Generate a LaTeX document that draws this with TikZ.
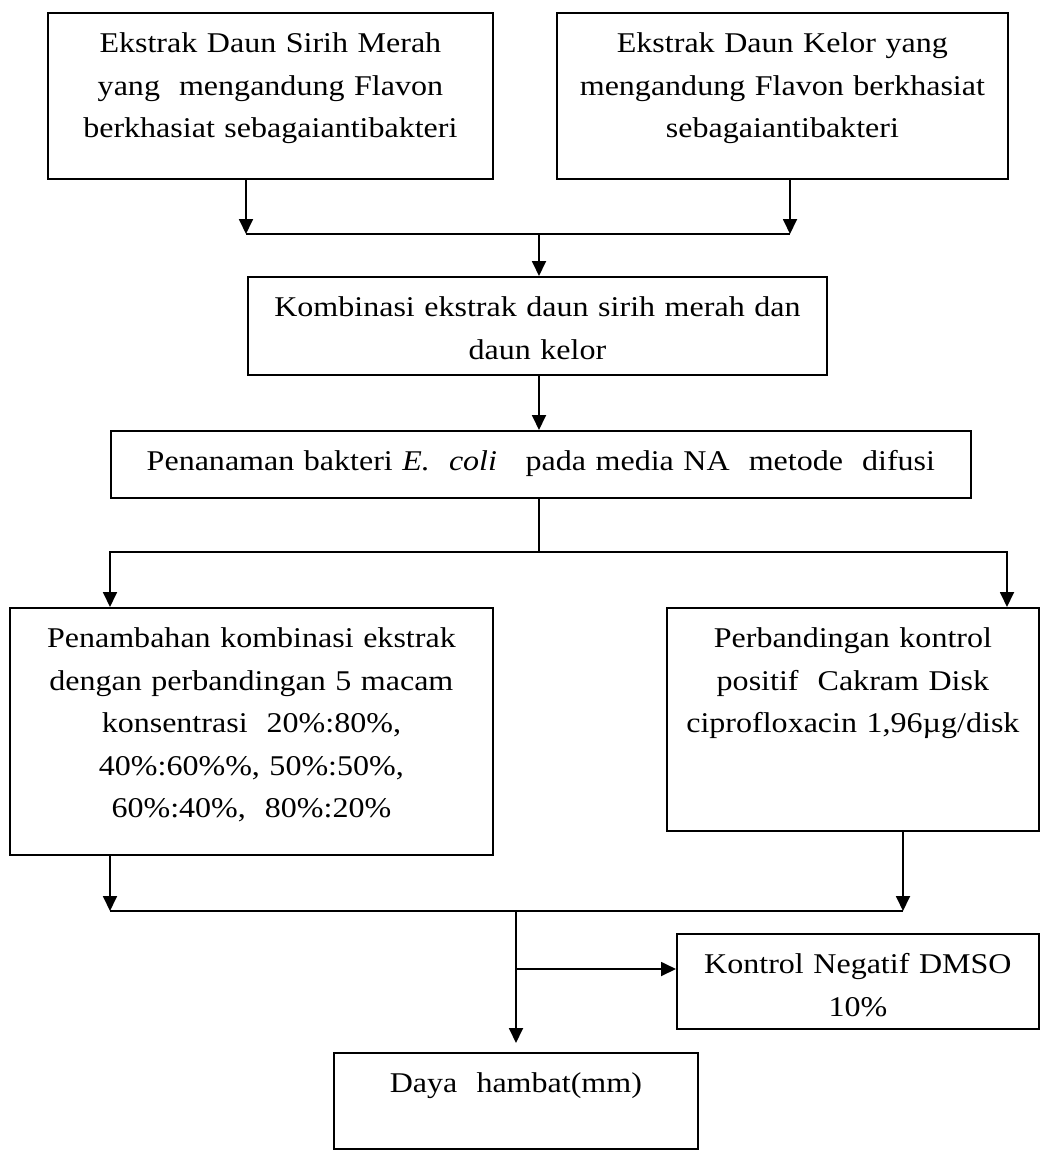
\documentclass[tikz,border=0pt]{standalone}
\usepackage{fontspec}
\setmainfont[FakeStretch=1.12]{Liberation Serif}
\usetikzlibrary{arrows.meta}

\begin{document}
\begin{tikzpicture}
[x=0.5pt,y=-0.5pt,>={Triangle[length=7.5pt,width=7pt]},line width=0.9pt,
box/.style={draw,anchor=north west,align=center,inner sep=0pt,text height=20pt,font=\fontsize{14.3pt}{21.2pt}\selectfont},]

\useasboundingbox (0,0) rectangle (1041,1152);

%Boxes
\node (A) at (47,12)[box,text width=222.5pt,text depth=63pt] {Ekstrak Daun Sirih Merah\\yang\ \ mengandung Flavon\\berkhasiat sebagaiantibakteri};
\node (B) at (556,12)[box,text width=225.5pt,text depth=63pt] {Ekstrak Daun Kelor yang\\mengandung Flavon berkhasiat\\sebagaiantibakteri};
\node (C) at (247,276)[box,text width=289.5pt,text depth=29pt] {Kombinasi ekstrak daun sirih merah dan\\daun kelor};
\node (D) at (110,430)[box,text width=430pt,text depth=13.5pt] {Penanaman bakteri \textit{E.\ \ coli}\ \ \ pada media NA\ \ metode\ \ difusi};
\node (E) at (9,607)[box,text width=241.5pt,text depth=103.5pt] {Penambahan kombinasi ekstrak\\dengan perbandingan 5 macam\\konsentrasi\ \ 20\%:80\%,\\40\%:60\%\%, 50\%:50\%,\\60\%:40\%,\ \ 80\%:20\%};
\node (F) at (666,607)[box,text width=186pt,text depth=91.5pt] {Perbandingan kontrol\\positif\ \ Cakram Disk\\ciprofloxacin 1,96µg/disk};
\node (G) at (676,933)[box,text width=181pt,text depth=27.5pt] {Kontrol Negatif DMSO\\10\%};
\node (H) at (333,1052)[box,text width=182pt,text depth=28pt] {Daya\ \ hambat(mm)};

%Junction points
\coordinate (J1) at (246,234);
\coordinate (J2) at (790,234);
\coordinate (J3) at (539,234);
\coordinate (K1) at (110,552);
\coordinate (K2) at (1007,552);
\coordinate (K3) at (539,552);
\coordinate (L1) at (110,911);
\coordinate (L2) at (903,911);
\coordinate (L3) at (516,911);
\coordinate (L4) at (516,969);

%Drawing connectors
\draw[->] (A.south -| J1) -- (J1);
\draw[->] (B.south -| J2) -- (J2);
\draw (J1) -- (J2);
\draw[->] (J3) -- (J3 |- C.north);
\draw[->] (C.south -| J3) -- (D.north -| J3);
\draw (D.south -| K3) -- (K3);
\draw[->] (K3) -- (K1) -- (K1 |- E.north);
\draw[->] (K3) -- (K2) -- (K2 |- F.north);
\draw[->] (E.south -| L1) -- (L1);
\draw[->] (F.south -| L2) -- (L2);
\draw (L1) -- (L2);
\draw[->,shorten >=4.5pt] (L3) -- (L3 |- H.north);
\draw[->] (L4) -- (L4 -| G.west);

\end{tikzpicture}
\end{document}
